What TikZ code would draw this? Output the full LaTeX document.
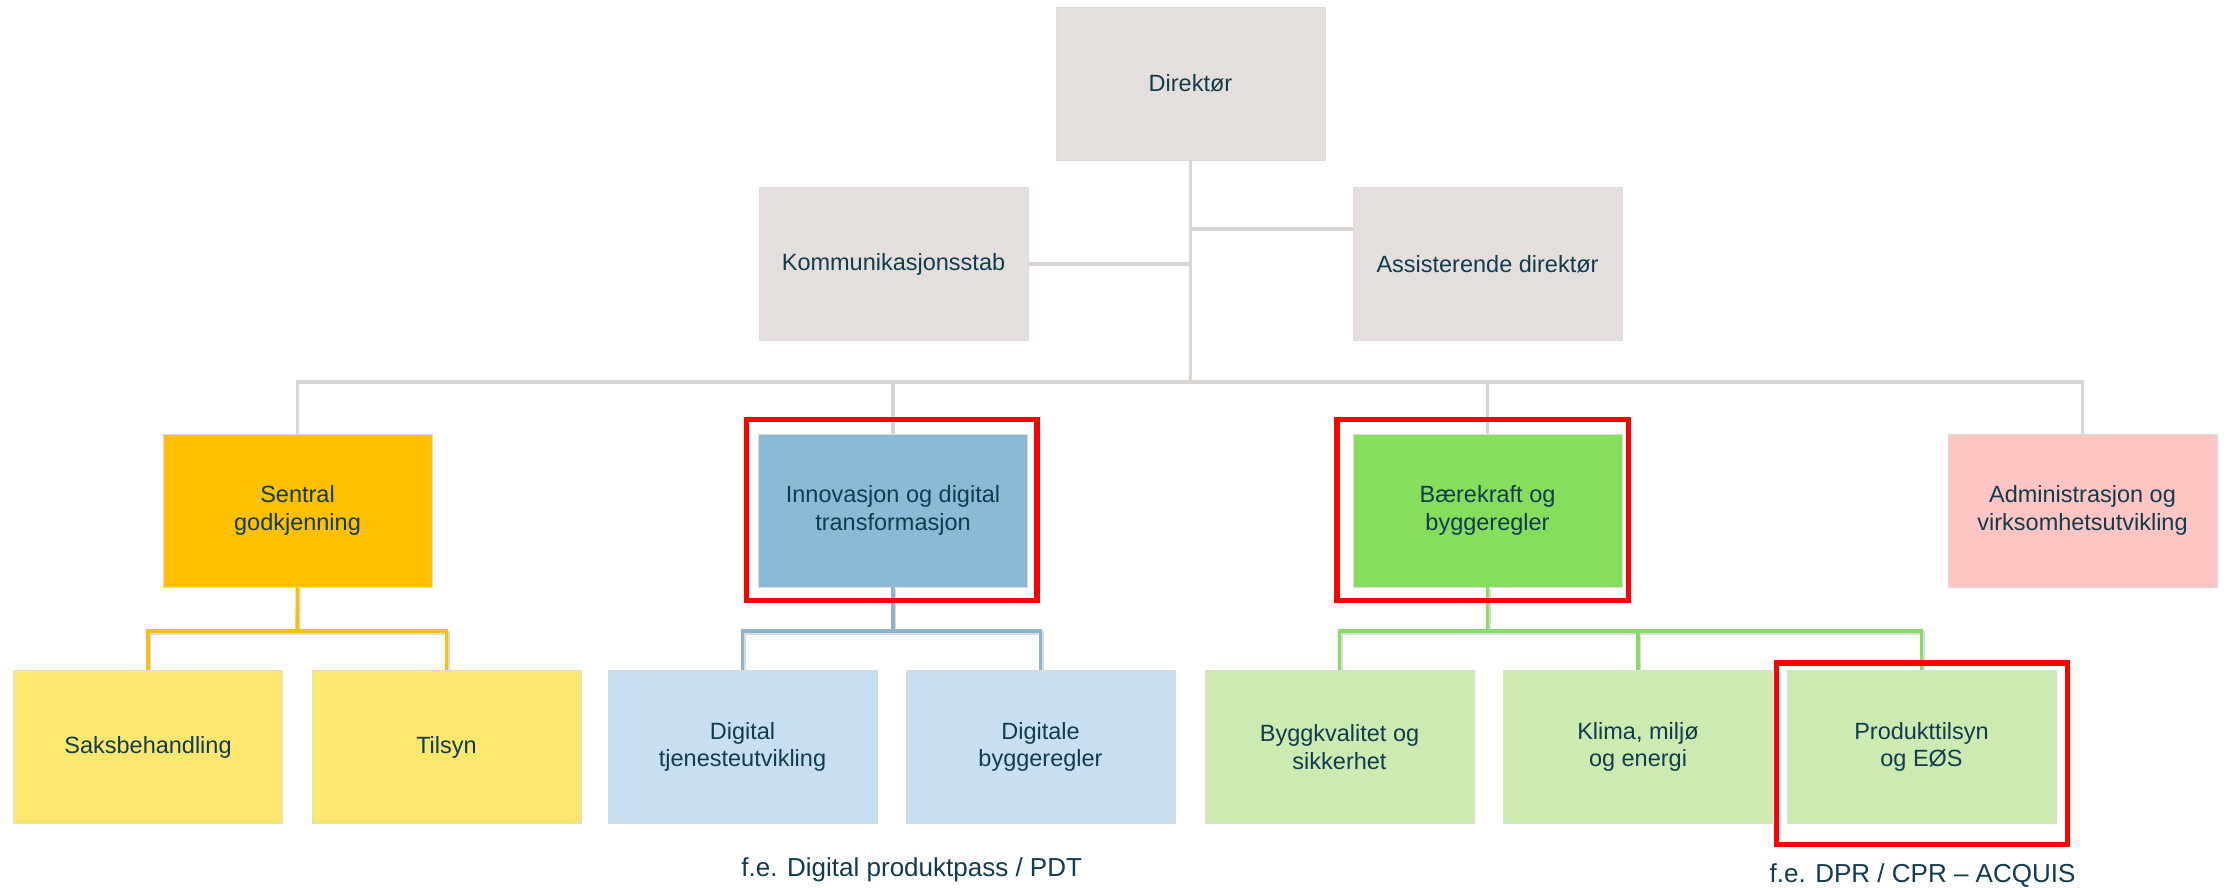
\documentclass[tikz,border=0pt]{standalone}
\usepackage{fontspec}
\setmainfont{Liberation Sans}
\usetikzlibrary{positioning}
\definecolor{txt}{HTML}{0F3C4E}
\definecolor{greybox}{HTML}{E4DFDD}
\definecolor{sentral}{HTML}{FFC000}
\definecolor{yellowc}{HTML}{FDE76E}
\definecolor{innov}{HTML}{8BBAD6}
\definecolor{bluec}{HTML}{C8DFF1}
\definecolor{baere}{HTML}{86DF5C}
\definecolor{greenc}{HTML}{CDEAB0}
\definecolor{admin}{HTML}{FFC5C2}
\definecolor{gline}{HTML}{D9D5D3}
\definecolor{oline}{HTML}{F9BE14}
\definecolor{bline}{HTML}{8DB4CE}
\definecolor{grline}{HTML}{8ADB63}
\definecolor{hired}{HTML}{FF0000}
\tikzset{
  orgbox/.style={minimum width=269pt, minimum height=153pt, inner sep=0pt,
    align=center, text=txt, draw=black!14, line width=0.8pt,
    font=\fontsize{23.5}{27.3}\selectfont},
  conn/.style={line width=3.5pt},
  shadowconn/.style={line width=3.5pt, preaction={draw=black!14, line width=3.5pt,
    transform canvas={shift={(1.5pt,-2pt)}}}},
  redframe/.style={draw=hired, line width=5.5pt},
  caption/.style={text=txt, inner sep=0pt, anchor=base,
    font=\fontsize{26}{30}\selectfont}
}
\begin{document}
\begin{tikzpicture}[x=1pt, y=-1pt]
\useasboundingbox (0,0) rectangle (2233,887);
\fill[white] (0,0) rectangle (2233,887);

% junction coordinates
\coordinate (bar) at (1190.5,382);

% connectors top level (drawn first, under boxes)
\node[orgbox, fill=greybox] (dir) at (1190.5,83.5) {Direktør};
\node[orgbox, fill=greybox] (kom) at (893.5,264) {Kommunikasjonsstab};
\node[orgbox, fill=greybox] (ass) at (1487.5,264) {Assisterende direktør};

\node[orgbox, fill=sentral] (sen) at (297.5,510.5) {Sentral\\godkjenning};
\node[orgbox, fill=innov] (inn) at (893,510.5) {Innovasjon og digital\\transformasjon};
\node[orgbox, fill=baere] (bae) at (1487.5,510.5) {Bærekraft og\\byggeregler};
\node[orgbox, fill=admin] (adm) at (2082.5,510.5) {Administrasjon og\\virksomhetsutvikling};

\node[orgbox, fill=yellowc] (sak) at (148,747) {Saksbehandling};
\node[orgbox, fill=yellowc] (til) at (446.5,747) {Tilsyn};
\node[orgbox, fill=bluec] (dtj) at (742.5,747) {Digital\\tjenesteutvikling};
\node[orgbox, fill=bluec] (dby) at (1040.5,747) {Digitale\\byggeregler};
\node[orgbox, fill=greenc] (byg) at (1339.5,747) {Byggkvalitet og\\sikkerhet};
\node[orgbox, fill=greenc] (kli) at (1638,747) {Klima, miljø\\og energi};
\node[orgbox, fill=greenc] (pro) at (1921.5,747) {Produkttilsyn\\og EØS};

\coordinate (senj) at (297,631);
\coordinate (innj) at (893,631);
\coordinate (baej) at (1487.5,631);

% grey connectors
\draw[conn, gline] (dir.south) -- (bar);
\draw[conn, gline] (kom.east) -- (kom.east -| dir.south);
\draw[conn, gline] ([yshift=35pt]ass.west) -- ([yshift=35pt]ass.west -| dir.south);
\draw[conn, gline] (sen.north) -- (sen.north |- bar) -- (adm.north |- bar) -- (adm.north);
\draw[conn, gline] (inn.north |- bar) -- (inn.north);
\draw[conn, gline] (bae.north |- bar) -- (bae.north);

% coloured connectors
\draw[shadowconn, oline] (sen.south) -- (senj);
\draw[shadowconn, oline] (sak.north) -- (sak.north |- senj) -- (til.north |- senj) -- (til.north);
\draw[shadowconn, bline] (inn.south) -- (innj);
\draw[shadowconn, bline] (dtj.north) -- (dtj.north |- innj) -- (dby.north |- innj) -- (dby.north);
\draw[shadowconn, grline] (bae.south) -- (baej);
\draw[shadowconn, grline] (byg.north) -- (byg.north |- baej) -- (pro.north |- baej) -- (pro.north);
\draw[shadowconn, grline] (kli.north) -- (kli.north |- baej);

% highlight frames
\draw[redframe] ([shift={(-11.8pt,14.3pt)}]inn.north west) rectangle ([shift={(9.2pt,-13pt)}]inn.south east);
\draw[redframe] ([shift={(-15.5pt,14.3pt)}]bae.north west) rectangle ([shift={(6pt,-13pt)}]bae.south east);
\draw[redframe] ([shift={(-10.3pt,7.2pt)}]pro.north west) rectangle ([shift={(11pt,-20.5pt)}]pro.south east);

% captions
\node[caption] (cap1) at (911.7,876.7) {f.e. Digital produktpass / PDT};
\node[caption] (cap2) at (1922.5,882.7) {f.e. DPR / CPR – ACQUIS};
\end{tikzpicture}
\end{document}
